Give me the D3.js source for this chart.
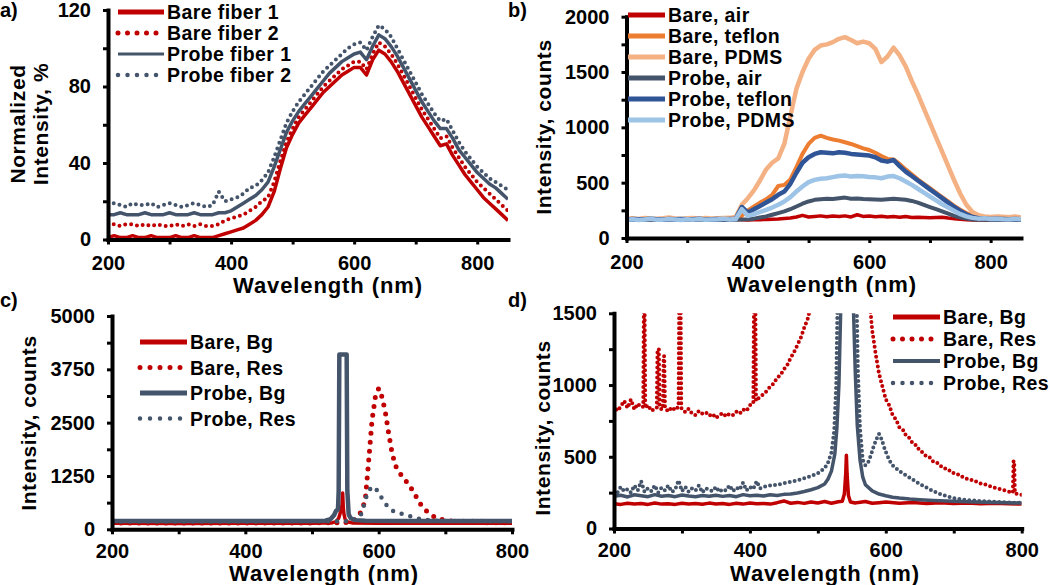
<!DOCTYPE html>
<html><head><meta charset="utf-8">
<script src="https://cdn.jsdelivr.net/npm/d3@7"></script>
<style>
body{margin:0;background:#fff;}
svg{display:block;}
text{font-family:'Liberation Sans',Arial,sans-serif;font-weight:bold;fill:#000;}
</style>
</head><body><script>
// ---------- DATA ----------
const wl = [200,210,220,230,240,250,260,270,280,290,300,310,320,330,340,350,360,370,380,390,400,410,420,430,440,450,460,470,480,490,500,510,520,530,540,550,560,570,580,590,600,610,620,630,640,650,660,670,680,690,700,710,720,730,740,750,760,770,780,790,800,810,820,830,840,850];

// panel a (normalized intensity, %)
const bareFiber1 = [1,2,1,1,2,1,1,2,1,1,1,2,1,1,2,1,1,1,
  2,3,4,5,6,8,10,13,17,25, 37,48,55,61,65,69,73,77,80,83, 86,88,90,90,86,94,99,97,93,88, 82,76,70,64,59,54,49,50,44,39, 34,30,26,22,19,16,13,10];
const bareFiber2 = [7,8,7,8,8,7,8,7,8,7,7,8,7,8,7,8,7,7,
  8,10,11,12,13,15,17,20,22,30, 41,51,58,64,68,72,76,80,83,86, 89,91,93,93,89,97,103,101,97,92, 86,80,74,68,63,58,53,54,48,43, 38,34,30,27,24,21,18,15];
const probeFiber1 = [13,13,14,13,13,13,14,13,13,13,14,13,13,13,14,13,13,13,
  14,14,15,17,19,21,23,26,30,38, 47,56,62,67,71,75,79,83,87,90, 93,95,97,98,94,101,107,105,101,96, 90,84,78,72,67,62,58,58,53,47, 43,39,35,32,29,27,24,21];
const probeFiber2 = [18,19,18,17,19,18,18,19,17,18,19,18,17,18,19,18,17,18,
  25,20,21,22,24,27,28,31,35,43, 52,61,67,72,76,80,84,88,91,94, 97,100,102,103,99,106,112,110,106,100, 94,88,82,76,71,66,62,63,57,51, 46,42,38,35,32,30,28,26];

// panel b (counts)
const bareAir = [170,172,168,170,171,169,170,172,170,168,170,171,170,169,170,172,170,170,
  170,165,163,164,166,168,170,172,176,180, 190,205,190,195,200,192,198,195,200,190, 210,195,198,192,196,190,194,188,195,186, 188,185,183,185,188,180,175,170,165,163, 162,162,163,162,162,163,162,162];
const bareTeflon = [172,170,171,173,170,172,171,170,173,171,170,172,171,170,172,171,170,172,
  175,200,250,285,320,350,390,470,480,530, 640,760,850,905,925,905,890,880,865,850, 830,810,795,770,740,715,710,670,620,575, 530,490,450,410,370,330,290,255,225,200, 185,178,175,173,172,174,172,172];
const barePDMS = [175,178,172,180,176,174,178,185,176,172,178,180,175,182,176,178,180,182,
  190,300,360,430,520,620,680,720,850,1100, 1350,1500,1620,1700,1740,1750,1770,1800,1815,1790, 1760,1775,1760,1710,1590,1640,1720,1650,1550,1420, 1300,1170,1040,910,780,650,520,400,300,235, 205,195,190,195,192,188,195,185];
const probeAir = [165,163,166,164,165,167,164,165,166,163,165,164,166,165,164,165,166,164,
  165,168,170,175,185,195,210,225,240,260, 285,310,330,345,350,355,352,360,365,355, 358,352,350,348,345,350,355,350,345,335, 320,300,280,260,240,220,200,185,175,168, 165,164,165,163,164,165,163,164];
const probeTeflon = [168,172,170,169,173,170,168,171,170,172,169,170,173,168,170,171,169,172,
  175,280,230,260,290,320,350,390,420,490, 590,680,730,760,775,770,765,775,770,760, 755,750,745,730,700,690,705,650,600,560, 520,480,440,400,360,320,280,245,215,190, 178,175,172,174,172,170,172,170];
const probePDMS = [165,170,162,168,175,164,166,172,168,163,170,166,172,165,168,170,175,168,
  172,260,200,215,235,255,275,300,330,370, 420,465,505,525,535,540,550,560,565,555, 560,558,552,548,540,555,560,540,510,480, 445,410,375,340,305,275,245,215,195,182, 175,178,172,175,170,168,172,170];

// panel c ([wavelength, counts])
const cBareBg = [[200,140],[300,138],[400,140],[500,142],[520,145],[530,150],[536,180],[540,260],[543,420],[545,560],[546,850],[547,500],[548,350],[550,220],[554,170],[560,150],[600,142],[700,140],[800,140]];
const cBareRes = [[200,150],[300,150],[400,150],[500,150],[550,155],[560,190],[565,240],[570,320],[575,450],[580,700],[585,1600],[590,2550],[595,3100],[600,3300],[605,3100],[610,2750],[615,2250],[620,1800],[625,1500],[630,1350],[635,1250],[640,1150],[645,1050],[650,930],[655,800],[660,650],[665,540],[670,450],[680,320],[690,250],[700,215],[710,190],[720,175],[740,160],[760,155],[800,150]];
const cProbeBg = [[200,195],[300,195],[400,195],[500,195],[520,200],[528,240],[533,330],[536,430],[539,470],[540,900],[541,4100],[552,4100],[553,900],[555,350],[558,260],[565,215],[580,200],[650,195],[800,195]];
const cProbeRes = [[200,185],[400,185],[560,190],[570,260],[575,390],[580,700],[585,900],[590,1000],[595,970],[600,860],[605,720],[610,600],[615,510],[620,440],[630,380],[640,340],[650,290],[660,250],[670,225],[680,205],[700,195],[800,190]];

// panel d ([wavelength, counts])
const dBareBg = [[200,172],[210,168],[220,176],[230,170],[240,174],[250,168],[260,178],[270,170],[280,173],[290,168],[300,176],[310,170],[320,174],[330,169],[340,177],[350,171],[360,174],[370,168],[380,176],[390,170],[400,178],[410,172],[420,175],[430,170],[440,180],[450,192],[460,176],[470,182],[480,175],[490,185],[500,178],[510,188],[520,176],[530,186],[536,190],[539,240],[541,380],[542,510],[543,380],[545,230],[548,185],[555,178],[560,182],[570,188],[580,176],[590,180],[600,184],[620,176],[640,181],[660,175],[680,179],[700,174],[720,177],[740,172],[760,176],[780,172],[800,170]];
const dBareRes = [[200,860],[205,820],[210,850],[215,890],[220,840],[225,900],[230,830],[235,870],[240,845],[243,850],[244,1600],[245,1600],[246,840],[250,860],[255,820],[260,835],[263,840],[264,1250],[266,1250],[267,850],[270,830],[272,835],[273,1200],[274,1200],[275,840],[280,815],[285,845],[290,825],[295,850],[296,1600],[298,1600],[299,840],[305,810],[310,835],[315,800],[320,790],[325,820],[330,800],[335,810],[340,785],[345,800],[350,770],[355,790],[360,805],[365,780],[370,800],[375,790],[380,815],[385,800],[390,830],[395,820],[400,860],[405,870],[406,1600],[408,1600],[409,890],[415,920],[420,935],[425,960],[430,990],[435,1010],[440,1050],[445,1070],[450,1110],[455,1140],[460,1190],[465,1230],[470,1280],[475,1330],[480,1400],[485,1460],[490,1560],[495,1700],
  [575,1650],[580,1380],[585,1220],[590,1080],[595,990],[600,900],[605,860],[610,790],[615,760],[620,705],[625,690],[630,645],[635,630],[640,590],[645,580],[650,540],[655,530],[660,500],[665,495],[670,465],[675,460],[680,435],[685,430],[690,405],[695,405],[700,385],[705,382],[710,362],[715,360],[720,345],[725,342],[730,328],[735,326],[740,312],[745,310],[750,298],[755,294],[760,284],[765,280],[770,270],[775,266],[780,258],[785,252],[787,250],[788,470],[789,470],[790,245],[795,240],[800,235]];
const dProbeBg = [[200,225],[210,232],[220,220],[230,235],[240,228],[250,222],[260,236],[270,225],[280,230],[290,222],[300,234],[310,226],[320,222],[330,230],[340,225],[350,232],[360,224],[370,230],[380,222],[390,236],[400,228],[410,232],[420,226],[430,235],[440,230],[450,238],[460,240],[470,248],[480,258],[490,270],[500,285],[510,310],[515,345],[520,400],[525,520],[528,700],[531,1000],[534,1600],[552,1600],[555,1100],[558,720],[562,480],[566,360],[570,305],[580,262],[590,240],[600,228],[610,218],[620,212],[635,205],[650,200],[670,195],[700,190],[730,185],[760,182],[800,178]];
const dProbeRes = [[200,270],[205,250],[210,290],[215,260],[220,275],[225,250],[230,300],[235,265],[240,330],[245,255],[250,280],[255,260],[260,300],[265,250],[270,285],[275,265],[280,300],[285,255],[290,270],[295,335],[300,260],[305,290],[310,255],[315,280],[320,265],[325,300],[330,250],[335,280],[340,270],[345,260],[350,290],[355,255],[360,275],[365,265],[370,300],[375,260],[380,285],[385,270],[390,320],[395,265],[400,290],[405,275],[410,330],[415,280],[420,290],[430,300],[440,305],[450,315],[460,325],[470,335],[480,350],[490,365],[500,385],[510,420],[515,460],[520,530],[524,680],[527,1000],[529,1600],[557,1600],[559,1100],[562,700],[566,480],[570,440],[574,460],[578,510],[582,570],[586,620],[590,660],[594,620],[598,560],[602,510],[606,470],[610,440],[620,400],[630,370],[640,340],[650,310],[660,285],[670,260],[680,240],[690,225],[700,212],[720,198],[750,188],[780,182],[800,178]];

// ticks
const xTicksAB = [200,300,400,500,600,700,800];
const xTicksCD = [200,300,400,500,600,700,800];
const xLabels = [200,400,600,800];
const yTicksA = [0,20,40,60,80,100,120], yLabelsA = [0,40,80,120];
const yTicksB = [0,250,500,750,1000,1250,1500,1750,2000], yLabelsB = [0,500,1000,1500,2000];
const yTicksC = [0,625,1250,1875,2500,3125,3750,4375,5000], yLabelsC = [0,1250,2500,3750,5000];
const yTicksD = [0,250,500,750,1000,1250,1500], yLabelsD = [0,500,1000,1500];

// ---------- DRAW ----------
const RED='#c00000', SLATE='#44546a';
const svg = d3.select('body').append('svg').attr('width',1050).attr('height',585);
const defs = svg.append('defs');
const zip = v => wl.map((w,i)=>[w,v[i]]);

function panel(p){
  const x = d3.scaleLinear().domain(p.xDomain).range(p.xRange);
  const y = d3.scaleLinear().domain(p.yDomain).range(p.yRange);
  const g = svg.append('g');
  const cid = 'clip-'+p.id;
  defs.append('clipPath').attr('id',cid).append('rect')
    .attr('x',p.xRange[0]).attr('y',p.yRange[1])
    .attr('width',p.xRange[1]-p.xRange[0]).attr('height',p.yRange[0]-p.yRange[1]);
  const line = d3.line().x(d=>x(d[0])).y(d=>y(d[1]));
  const plot = g.append('g').attr('clip-path',`url(#${cid})`);
  p.series.forEach(s=>{
    plot.append('path').attr('d',line(s.data)).attr('fill','none')
      .attr('stroke',s.color).attr('stroke-width',s.w)
      .attr('stroke-dasharray',s.dash||null)
      .attr('stroke-linecap',s.dash?'round':'butt')
      .attr('stroke-linejoin','round');
  });
  const xa = d3.axisBottom(x).tickValues(p.xTicks).tickSize(5).tickSizeOuter(0).tickPadding(p.xPad)
    .tickFormat(d=>p.xLabels.includes(d)?d:'');
  const ya = d3.axisLeft(y).tickValues(p.yTicks).tickSize(5).tickSizeOuter(0).tickPadding(12)
    .tickFormat(d=>p.yLabels.includes(d)?d:'');
  const gx = g.append('g').attr('transform',`translate(0,${p.yRange[0]})`).call(xa);
  const gy = g.append('g').attr('transform',`translate(${p.xRange[0]},0)`).call(ya);
  [gx,gy].forEach(a=>{
    a.select('.domain').attr('stroke','#000').attr('stroke-width',4).attr('stroke-linecap','square');
    a.selectAll('.tick line').attr('stroke','#000').attr('stroke-width',3);
    a.selectAll('.tick text').style('font-size','20px').attr('fill','#000');
  });
  // axis titles
  g.append('text').attr('x',p.xTitle[0]).attr('y',p.xTitle[1]).attr('text-anchor','middle')
    .style('font-size','22px').style('letter-spacing','0.9px').text('Wavelength (nm)');
  p.yTitle.forEach(t=>{
    g.append('text').attr('transform',`translate(${t[0]},${t[1]}) rotate(-90)`).attr('text-anchor','middle')
      .style('font-size','21px').style('letter-spacing','0.6px').text(t[2]);
  });
  // panel label
  g.append('text').attr('x',p.tag[0]).attr('y',p.tag[1]).style('font-size','20px').text(p.tag[2]);
  // legend
  const L = p.legend;
  p.series.forEach((s,i)=>{
    const yy = L.y0 + i*L.dy;
    g.append('line').attr('x1',L.x0).attr('x2',L.x1).attr('y1',yy).attr('y2',yy)
      .attr('stroke',s.color).attr('stroke-width',s.lw)
      .attr('stroke-dasharray',s.dash?s.ldash:null)
      .attr('stroke-linecap',s.dash?'round':'butt');
    g.append('text').attr('x',L.x1+3).attr('y',yy).attr('dy','0.36em')
      .style('font-size','19.5px').style('letter-spacing','0.4px').text(s.name);
  });
}

panel({id:'a', xDomain:[200,850], xRange:[108,508], yDomain:[0,120], yRange:[239.5,10],
  xTicks:xTicksAB, xLabels, xPad:11.5, yTicks:yTicksA, yLabels:yLabelsA,
  xTitle:[328,293], yTitle:[[25,124,'Normalized'],[48,124,'Intensity, %']], tag:[0,17,'a)'],
  legend:{x0:118,x1:164,y0:12,dy:21},
  series:[
    {name:'Bare fiber 1', data:zip(bareFiber1), color:RED, w:3.5, lw:5},
    {name:'Bare fiber 2', data:zip(bareFiber2), color:RED, w:4, dash:'0 6', lw:5, ldash:'0 9.5'},
    {name:'Probe fiber 1', data:zip(probeFiber1), color:SLATE, w:3.5, lw:3},
    {name:'Probe fiber 2', data:zip(probeFiber2), color:SLATE, w:4, dash:'0 6', lw:4.5, ldash:'0 9.5'}
  ]});

panel({id:'b', xDomain:[200,850], xRange:[626.5,1021], yDomain:[0,2000], yRange:[238,16.7],
  xTicks:xTicksAB, xLabels, xPad:11.5, yTicks:yTicksB, yLabels:yLabelsB,
  xTitle:[822,292], yTitle:[[551,127,'Intensity, counts']], tag:[508,17,'b)'],
  legend:{x0:628,x1:665,y0:15,dy:21},
  series:[
    {name:'Bare, air', data:zip(bareAir), color:'#c00000', w:3.5, lw:5},
    {name:'Bare, teflon', data:zip(bareTeflon), color:'#ed7d31', w:4, lw:5},
    {name:'Bare, PDMS', data:zip(barePDMS), color:'#f4b183', w:4.5, lw:5},
    {name:'Probe, air', data:zip(probeAir), color:'#44546a', w:4, lw:5},
    {name:'Probe, teflon', data:zip(probeTeflon), color:'#2f5597', w:4.5, lw:5},
    {name:'Probe, PDMS', data:zip(probePDMS), color:'#9dc3e6', w:4.5, lw:5}
  ]});

panel({id:'c', xDomain:[200,800], xRange:[112,512], yDomain:[0,5000], yRange:[529.3,316],
  xTicks:xTicksCD, xLabels, xPad:9.5, yTicks:yTicksC, yLabels:yLabelsC,
  xTitle:[324,581], yTitle:[[36,423,'Intensity, counts']], tag:[0,307,'c)'],
  legend:{x0:140,x1:187,y0:342,dy:25.5},
  series:[
    {name:'Bare, Bg', data:cBareBg, color:RED, w:3.5, lw:5},
    {name:'Bare, Res', data:cBareRes, color:RED, w:5, dash:'0 9', lw:5, ldash:'0 10'},
    {name:'Probe, Bg', data:cProbeBg, color:SLATE, w:4.5, lw:5},
    {name:'Probe, Res', data:cProbeRes, color:SLATE, w:4.5, dash:'0 9', lw:4.5, ldash:'0 10'}
  ]});

panel({id:'d', xDomain:[200,800], xRange:[614,1021.7], yDomain:[0,1500], yRange:[528.5,313.3],
  xTicks:xTicksCD, xLabels, xPad:9.5, yTicks:yTicksD, yLabels:yLabelsD,
  xTitle:[825,581], yTitle:[[550,428,'Intensity, counts']], tag:[508,307,'d)'],
  legend:{x0:893,x1:940,y0:317,dy:22},
  series:[
    {name:'Bare, Bg', data:dBareBg, color:RED, w:3.5, lw:5},
    {name:'Bare, Res', data:dBareRes, color:RED, w:4, dash:'0 5', lw:5, ldash:'0 9.5'},
    {name:'Probe, Bg', data:dProbeBg, color:SLATE, w:3.5, lw:4},
    {name:'Probe, Res', data:dProbeRes, color:SLATE, w:4, dash:'0 5', lw:4.5, ldash:'0 9.5'}
  ]});
</script></body></html>
